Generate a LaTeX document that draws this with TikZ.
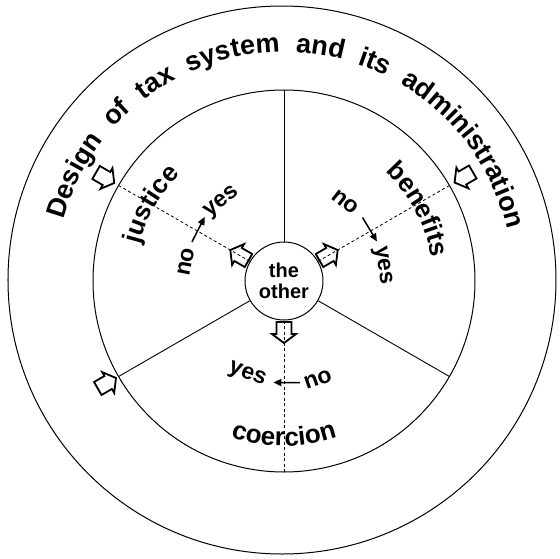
\documentclass[tikz,border=0pt]{standalone}
\usepackage{fontspec}
\setmainfont{Liberation Sans}
\usetikzlibrary{decorations.text,arrows.meta}
\newcommand\lblfont{\fontsize{26}{26}\selectfont\bfseries}
\newcommand\ringfont{\fontsize{27}{27}\selectfont\bfseries}
\begin{document}
\begin{tikzpicture}[x=1pt,y=1pt,
  ringline/.style={line width=1pt},
  spoke/.style={line width=0.9pt},
  dashline/.style={line width=0.8pt, dash pattern=on 3pt off 2.5pt},
  blockarrow/.style={line width=1.8pt, line join=miter},
  pointer/.style={line width=1.5pt, -{Triangle[length=8pt,width=7pt]}},
  word/.style={font=\fontsize{23}{23}\selectfont\bfseries, inner sep=0pt},
  pics/blockarr/.style={code={
    \draw[blockarrow] (0,-7.5) -- (12,-7.5) -- (12,-12) -- (21,0) -- (12,12) -- (12,7.5) -- (0,7.5) -- cycle;
  }}
]
\useasboundingbox (-284,-277) rectangle (276,281);
\coordinate (C) at (0,0);
% circles
\draw[ringline] (-2,1) circle[radius=274];
\draw[ringline] (C) circle[radius=191];
\node[draw, circle, minimum size=78pt, line width=1pt, inner sep=0pt, align=center,
      font=\fontsize{20}{21}\selectfont\bfseries] (other) at (C) {the\\other};
% spokes
\coordinate (s90) at (90:191);
\coordinate (s210) at (210:191);
\coordinate (s330) at (330:191);
\draw[spoke] (other.90) -- (s90);
\draw[spoke] (other.210) -- (s210);
\draw[spoke] (other.330) -- (s330);
% dashed radial lines
\coordinate (d150) at (150:191);
\coordinate (d30) at (30:191);
\coordinate (d270) at (270:191);
\draw[dashline] (other.150) -- (d150);
\draw[dashline] (other.30) -- (d30);
\draw[dashline] (other.270) -- (d270);
% block arrows near the centre (outward)
\pic[rotate=150] at (150:41) {blockarr};
\pic[rotate=30] at (30:41) {blockarr};
\pic[rotate=270] at (270:41) {blockarr};
% block arrows in the ring (inward)
\pic[rotate=-30] at (150:217) {blockarr};
\pic[rotate=210] at (30:218) {blockarr};
\pic[rotate=30] at (210:215) {blockarr};
% ring text
\path[decorate, decoration={text along path, text align={fit to path stretching spaces},
  text={|\ringfont|Design of tax system and its administration}}]
  (164.5:229) arc[start angle=164.5, end angle=13, radius=229];
% sector labels
\path[decorate, decoration={text along path, text align=center, text={|\lblfont|justice}}]
  (190:149) arc[start angle=190, end angle=110, radius=149];
\path[decorate, decoration={text along path, text align=center, text={|\lblfont|benefits}}]
  (68:149) arc[start angle=68, end angle=-12, radius=149];
\path[decorate, decoration={text along path, text align=center, text={|\lblfont|coercion}}]
  (230:165) arc[start angle=230, end angle=310, radius=165];
% no -> yes
\node[word, rotate=79] (noJ) at (169:100) {no};
\node[word, rotate=38] (yesJ) at (128:100) {yes};
\coordinate (aJ1) at (157:100);
\coordinate (aJ2) at (141:102);
\draw[pointer] (aJ1) -- (aJ2);
\node[word, rotate=-38] (noB) at (52:100) {no};
\node[word, rotate=-81] (yesB) at (9:99) {yes};
\coordinate (aB1) at (39:101);
\coordinate (aB2) at (23:101);
\draw[pointer] (aB1) -- (aB2);
\node[word, rotate=-21.5] (yesC) at (248.5:101) {yes};
\node[word, rotate=19] (noC) at (289:104) {no};
\coordinate (aC1) at (279:103);
\coordinate (aC2) at (264:102);
\draw[pointer] (aC1) -- (aC2);
\end{tikzpicture}
\end{document}
